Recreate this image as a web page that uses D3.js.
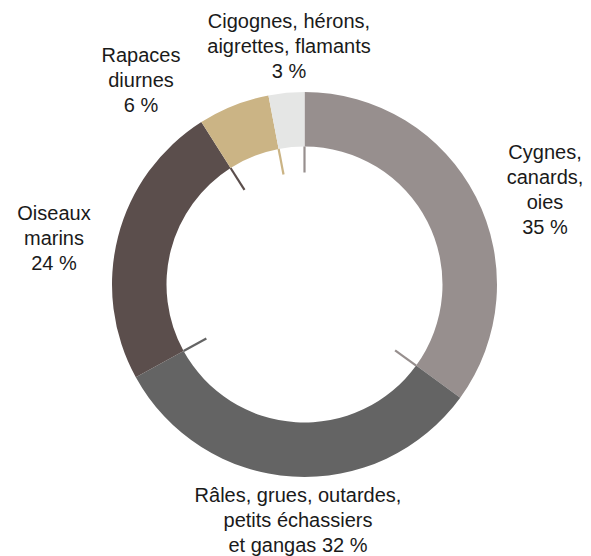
<!DOCTYPE html>
<html>
<head>
<meta charset="utf-8">
<script src="https://cdn.jsdelivr.net/npm/d3@7"></script>
<style>
  html, body { margin: 0; padding: 0; background: #ffffff; }
  svg { display: block; }
  text { font-family: "Liberation Sans", Arial, Helvetica, sans-serif; fill: #1a1a1a; }
</style>
</head>
<body>
<svg id="chart" width="591" height="556"></svg>
<script>
// Bird groups, clockwise from twelve o'clock
const categories = [
  "Cygnes, canards, oies",
  "Râles, grues, outardes, petits échassiers et gangas",
  "Oiseaux marins",
  "Rapaces diurnes",
  "Cigognes, hérons, aigrettes, flamants"
];
const shares = [35, 32, 24, 6, 3];
const colors = ["#978f8e", "#646464", "#5b4e4c", "#cbb485", "#e5e6e5"];

// Label lines for each group (last line carries the share)
const labelLines = [
  ["Cygnes,", "canards,", "oies", "35 %"],
  ["Râles, grues, outardes,", "petits échassiers", "et gangas 32 %"],
  ["Oiseaux", "marins", "24 %"],
  ["Rapaces", "diurnes", "6 %"],
  ["Cigognes, hérons,", "aigrettes, flamants", "3 %"]
];
// Anchor (centre of first baseline) for each label block
const labelAnchors = [
  [545, 159],
  [298, 502],
  [54, 220],
  [141, 62],
  [289, 28]
];

const svg = d3.select("#chart");
const cx = 304.5, cy = 284.5;
const outerR = 192.5, innerR = 138, tickLen = 26;
const lineH = 25;

const data = categories.map((c, i) => ({ name: c, value: shares[i], color: colors[i], lines: labelLines[i], anchor: labelAnchors[i] }));

const pie = d3.pie().value(d => d.value).sort(null);
const arcs = pie(data);
const arc = d3.arc().innerRadius(innerR).outerRadius(outerR);

const g = svg.append("g").attr("transform", `translate(${cx},${cy})`);

g.selectAll("path.slice")
  .data(arcs)
  .join("path")
  .attr("class", "slice")
  .attr("d", arc)
  .attr("fill", d => d.data.color);

// Short radial marks inside the ring at the end of each slice
const rScale = d3.scaleLinear().domain([0, 1]).range([innerR, innerR - tickLen]);
const tickData = arcs.map((a, i) => ({
  angle: a.endAngle,
  color: i === arcs.length - 1 ? arcs[0].data.color : a.data.color
}));
g.selectAll("line.tick")
  .data(tickData)
  .join("line")
  .attr("class", "tick")
  .attr("x1", d => rScale(0) * Math.sin(d.angle))
  .attr("y1", d => -rScale(0) * Math.cos(d.angle))
  .attr("x2", d => rScale(1) * Math.sin(d.angle))
  .attr("y2", d => -rScale(1) * Math.cos(d.angle))
  .attr("stroke", d => d.color)
  .attr("stroke-width", 2.2);

// Labels
const labels = svg.selectAll("text.label")
  .data(data)
  .join("text")
  .attr("class", "label")
  .attr("text-anchor", "middle")
  .attr("font-size", 20);

labels.selectAll("tspan")
  .data(d => d.lines.map((l, j) => ({ text: l, x: d.anchor[0], y: d.anchor[1] + j * lineH })))
  .join("tspan")
  .attr("x", d => d.x)
  .attr("y", d => d.y)
  .text(d => d.text);
</script>
</body>
</html>
